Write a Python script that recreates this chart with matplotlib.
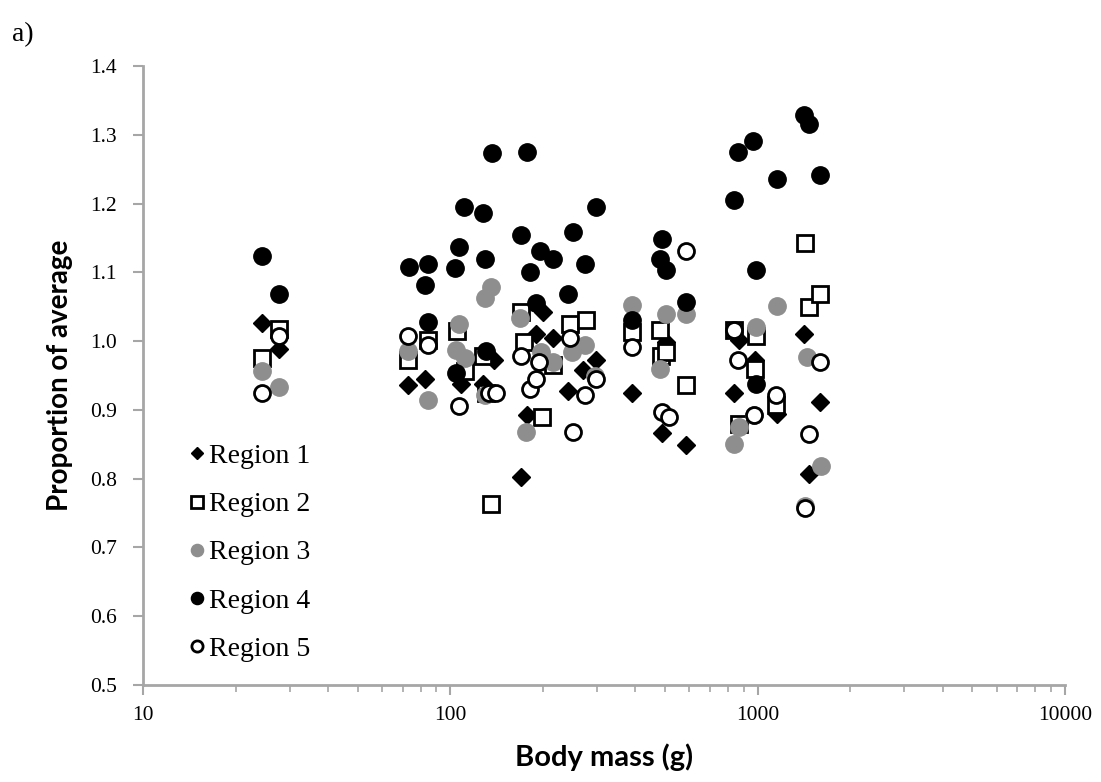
import matplotlib
matplotlib.use("Agg")
import matplotlib.pyplot as plt
from matplotlib.ticker import FixedLocator, LogLocator, NullFormatter, FixedFormatter

# body mass (g) and proportion of average for each region
r1_x = [24.3, 27.8, 73, 83, 108, 128, 139, 170, 178, 190, 200, 216, 242, 270, 298,
        390, 487, 505, 583, 837, 870, 980, 1160, 1416, 1470, 1590]
r1_y = [1.026, 0.988, 0.936, 0.945, 0.938, 0.938, 0.972, 0.803, 0.892, 1.011, 1.042, 1.004, 0.928, 0.958, 0.972,
        0.924, 0.867, 0.999, 0.849, 0.924, 1.001, 0.972, 0.894, 1.011, 0.807, 0.911]

r2_x = [24.4, 27.8, 73, 84.4, 105, 112, 128, 131, 136, 170, 174, 198, 216, 245, 277,
        390, 480, 483, 505, 583, 837, 870, 980, 985, 1144, 1430, 1470, 1590]
r2_y = [0.976, 1.017, 0.972, 1.002, 1.015, 0.957, 0.979, 0.924, 0.763, 1.042, 0.999, 0.889, 0.965, 1.025, 1.03,
        1.013, 1.016, 0.979, 0.984, 0.936, 1.016, 0.88, 0.96, 1.008, 0.907, 1.143, 1.05, 1.069]

r3_x = [24.4, 27.6, 73, 84.4, 104, 107, 112, 130, 130, 136, 168, 176, 197, 216, 248, 274, 295,
        390, 480, 505, 583, 837, 870, 975, 985, 1158, 1430, 1445, 1610]
r3_y = [0.957, 0.933, 0.985, 0.914, 0.987, 1.025, 0.975, 1.062, 0.922, 1.079, 1.033, 0.868, 0.984, 0.97, 0.984, 0.994, 0.95,
        1.052, 0.96, 1.04, 1.04, 0.851, 0.875, 0.892, 1.02, 1.051, 0.761, 0.977, 0.819]

r4_x = [24.4, 27.6, 73.5, 82.9, 84.4, 84.4, 103.8, 104, 107, 111, 127.6, 130, 131, 136.4,
        170, 177, 181, 190, 196, 216, 242, 250, 275, 298, 389, 480, 488, 503, 583,
        837, 863, 968, 985, 985, 1153, 1416, 1471, 1590]
r4_y = [1.124, 1.068, 1.108, 1.081, 1.112, 1.028, 1.106, 0.953, 1.137, 1.195, 1.186, 1.119, 0.985, 1.273,
        1.155, 1.275, 1.10, 1.055, 1.131, 1.119, 1.068, 1.158, 1.112, 1.195, 1.03, 1.119, 1.149, 1.103, 1.057,
        1.205, 1.275, 1.291, 1.103, 0.938, 1.236, 1.329, 1.316, 1.241]

r5_x = [24.4, 27.8, 73, 84.4, 107, 134, 141, 170, 181, 190, 195, 245, 250, 274, 298,
        390, 490, 513, 583, 837, 860, 975, 1144, 1430, 1470, 1590]
r5_y = [0.925, 1.008, 1.007, 0.995, 0.905, 0.924, 0.924, 0.979, 0.931, 0.945, 0.97, 1.004, 0.868, 0.921, 0.945,
        0.991, 0.897, 0.89, 1.131, 1.016, 0.973, 0.893, 0.921, 0.757, 0.865, 0.97]

labels = ["Region 1", "Region 2", "Region 3", "Region 4", "Region 5"]
y_ticks = [0.5, 0.6, 0.7, 0.8, 0.9, 1.0, 1.1, 1.2, 1.3, 1.4]
x_ticks = [10, 100, 1000, 10000]

fig = plt.figure(figsize=(11.01, 7.82), dpi=100)
ax = fig.add_axes([0.1299, 0.124, 0.8374, 0.7916])

ax.plot(r1_x, r1_y, "D", ms=9, mfc="black", mec="black", ls="none", label=labels[0])
ax.plot(r2_x, r2_y, "s", ms=11.5, mfc="white", mec="black", mew=2, ls="none", label=labels[1])
ax.plot(r3_x, r3_y, "o", ms=12.5, mfc="#8e8e8e", mec="#8e8e8e", ls="none", label=labels[2])
ax.plot(r4_x, r4_y, "o", ms=12.5, mfc="black", mec="black", ls="none", label=labels[3])
ax.plot(r5_x, r5_y, "o", ms=11.5, mfc="white", mec="black", mew=2, ls="none", label=labels[4])

ax.set_xscale("log")
ax.set_xlim(10, 10000)
ax.set_ylim(0.5, 1.4)

ax.yaxis.set_major_locator(FixedLocator(y_ticks))
ax.yaxis.set_major_formatter(FixedFormatter(["%.1f" % v for v in y_ticks]))
ax.xaxis.set_major_locator(FixedLocator(x_ticks))
ax.xaxis.set_major_formatter(FixedFormatter([str(v) for v in x_ticks]))
ax.xaxis.set_minor_locator(LogLocator(base=10, subs=range(2, 10)))
ax.xaxis.set_minor_formatter(NullFormatter())
for lab in ax.get_xticklabels() + ax.get_yticklabels():
    lab.set_fontfamily("Liberation Serif")
    lab.set_fontsize(15.5)

for side in ["top", "right"]:
    ax.spines[side].set_visible(False)
for side in ["left", "bottom"]:
    ax.spines[side].set_color("#a6a6a6")
    ax.spines[side].set_linewidth(2)
ax.tick_params(which="major", length=7, width=1.5, color="#a6a6a6")
ax.tick_params(which="minor", length=5, width=1.2, color="#a6a6a6")
ax.tick_params(axis="y", pad=12)
ax.tick_params(axis="x", pad=8)

ax.set_xlabel("Body mass (g)", fontfamily="Lato", fontweight="bold", fontsize=21, labelpad=13)
ax.set_ylabel("Proportion of average", fontfamily="Lato", fontweight="bold", fontsize=20, labelpad=12)

leg = ax.legend(loc="upper left", bbox_to_anchor=(0.037, 0.408), frameon=False,
                prop={"family": "Liberation Serif", "size": 20}, markerscale=0.7,
                handlelength=0.6, handletextpad=0.15, labelspacing=0.82, borderaxespad=0)

fig.text(0.011, 0.948, "a)", fontfamily="Liberation Serif", fontsize=20)

fig.savefig("out.png", dpi=100)
